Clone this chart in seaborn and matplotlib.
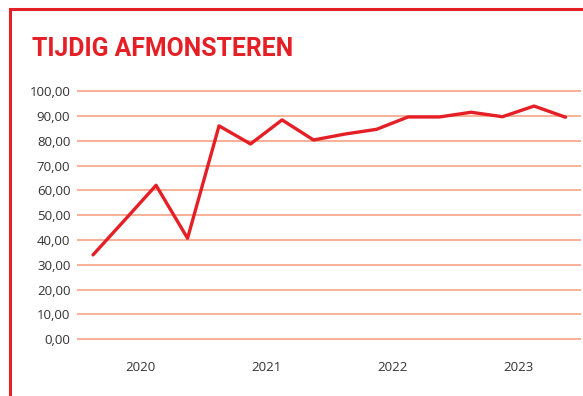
import matplotlib
matplotlib.use("Agg")
import matplotlib.pyplot as plt
from matplotlib.patches import Rectangle
import seaborn as sns
import pandas as pd

# Quarterly share of timely sampling (%)
years = ["2020", "2021", "2022", "2023"]
quarters = [f"{y} Q{q}" for y in years for q in range(1, 5)]
values = [34.0, 48.0, 62.1, 40.7, 86.1, 78.8, 88.5, 80.4,
          82.8, 84.7, 89.7, 89.7, 91.6, 89.8, 94.1, 89.6]
y_ticks = [0, 10, 20, 30, 40, 50, 60, 70, 80, 90, 100]

RED = "#E41F26"
GRID = "#F8A386"
TEXT = "#333333"

df = pd.DataFrame({"kwartaal": quarters, "pos": range(len(quarters)), "waarde": values})

sns.set_theme(style="white")
plt.rcParams["font.family"] = ["Open Sans", "DejaVu Sans"]

fig = plt.figure(figsize=(5.83, 3.96), dpi=100)
W, H = 583, 396

# axes placed in pixel units: y from 344 px (bottom) to 86.5 px (top)
ax = fig.add_axes([77.3 / W, (H - 344) / H, 504 / W, (344 - 86.5) / H])

for t in y_ticks:
    ax.axhline(t, color=GRID, lw=1.2, zorder=1)

sns.lineplot(data=df, x="pos", y="waarde", color=RED, lw=2.4, ax=ax, zorder=3)

ax.set_xlim(-0.5, len(quarters) - 0.5)
ax.set_ylim(-2, 102)
ax.set_yticks(y_ticks)
ax.set_yticklabels([f"{t:.2f}".replace(".", ",") for t in y_ticks],
                   fontsize=9.5, color=TEXT)
ax.set_xticks([i * 4 + 1.5 for i in range(len(years))])
ax.set_xticklabels(years, fontsize=9.5, color=TEXT)
ax.tick_params(axis="y", length=0, pad=5)
ax.tick_params(axis="x", length=0, pad=12)
ax.set_xlabel("")
ax.set_ylabel("")
ax.grid(False)
for s in ax.spines.values():
    s.set_visible(False)

# red frame open to the right and bottom
fig.patches.append(Rectangle((10.3 / W, -0.1), 1.2, (H - 8.5) / H + 0.1,
                             transform=fig.transFigure, fill=False,
                             edgecolor=RED, lw=2.2, zorder=0))

fig.text(32 / W, 1 - 55.5 / H, "TIJDIG AFMONSTEREN", color=RED,
         fontsize=17.8, fontweight="bold", ha="left", va="baseline",
         family=["Roboto", "DejaVu Sans"])

fig.savefig("out.png", dpi=100)
